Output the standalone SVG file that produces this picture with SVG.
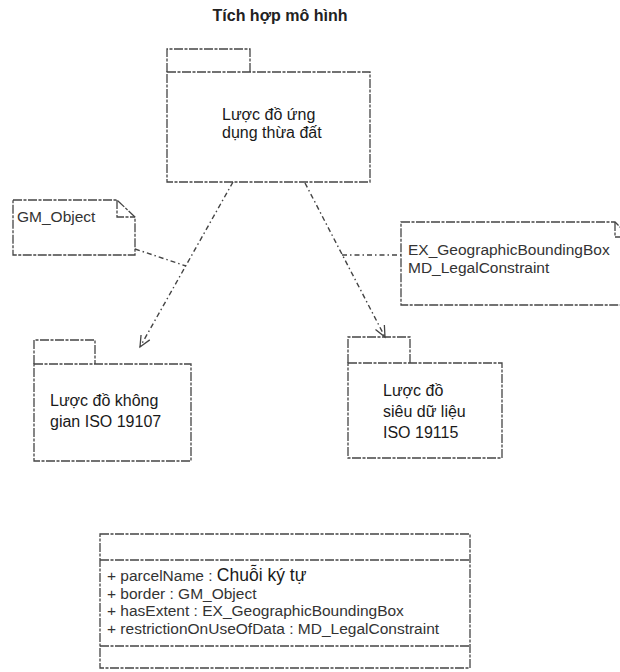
<svg xmlns="http://www.w3.org/2000/svg" width="620" height="672" viewBox="0 0 620 672">
<defs>
<style>
.t{font-family:"Liberation Sans",Arial,sans-serif;fill:#1a1a1a}
.title{font-size:16px;font-weight:bold;fill:#222}
.nt{font-size:16px}
.note{font-size:15.5px;fill:#333}
.attr{font-size:15.5px;fill:#333}
.box{fill:none;stroke:#444;stroke-width:1.3;stroke-dasharray:9 1.5 3 1.5}
.conn{fill:none;stroke:#444;stroke-width:1.4;stroke-dasharray:5 3 1.5 3}
</style>
<marker id="open" markerWidth="14" markerHeight="14" refX="12" refY="7" orient="auto" markerUnits="userSpaceOnUse">
<path d="M1,2 L12,7 L1,12" fill="none" stroke="#444" stroke-width="1.3"/>
</marker>
</defs>
<rect width="620" height="672" fill="#fff"/>
<text class="t title" x="280" y="21" text-anchor="middle">Tích hợp mô hình</text>

<g id="connectors">
<line class="conn" x1="233" y1="182" x2="140" y2="347" marker-end="url(#open)"/>
<line class="conn" x1="305" y1="183" x2="385" y2="337" marker-end="url(#open)"/>
<line class="conn" x1="135" y1="249" x2="186" y2="266"/>
<line class="conn" x1="342" y1="255" x2="401" y2="255"/>
</g>

<g id="pkg-ung-dung">
<path class="box" d="M167,72 V49 H250 V72"/>
<rect class="box" x="167" y="72" width="203" height="110"/>
<text class="t nt" x="222" y="120">Lược đồ ứng</text>
<text class="t nt" x="222" y="138">dụng thừa đất</text>
</g>

<g id="pkg-khong-gian">
<path class="box" d="M34,364 V340 H95 V364"/>
<rect class="box" x="34" y="364" width="157" height="97"/>
<text class="t nt" x="50" y="406">Lược đồ không</text>
<text class="t nt" x="50" y="427">gian ISO 19107</text>
</g>

<g id="pkg-sieu-du-lieu">
<path class="box" d="M348,363 V337 H410 V363"/>
<rect class="box" x="348" y="363" width="154" height="95"/>
<text class="t nt" x="383" y="396">Lược đồ</text>
<text class="t nt" x="383" y="417">siêu dữ liệu</text>
<text class="t nt" x="383" y="438">ISO 19115</text>
</g>

<g id="note-gm">
<path class="box" d="M13,200 H117 L135,217 V255 H13 Z"/>
<path class="box" d="M117,200 V217 H135"/>
<text class="t note" x="17" y="222">GM_Object</text>
</g>

<g id="note-ex">
<path class="box" d="M401,222 H615 L630,237 V305 H401 Z"/>
<path class="box" d="M615,222 V237 H630"/>
<text class="t note" x="408" y="255">EX_GeographicBoundingBox</text>
<text class="t note" x="408" y="273">MD_LegalConstraint</text>
</g>

<g id="class-thua-dat">
<rect class="box" x="100" y="534" width="370" height="134"/>
<line class="box" x1="100" y1="560" x2="470" y2="560"/>
<line class="box" x1="100" y1="646" x2="470" y2="646"/>
<text class="t attr" x="107" y="581">+ parcelName : <tspan font-size="17.5" fill="#1a1a1a">Chuỗi ký tự</tspan></text>
<text class="t attr" x="107" y="599">+ border : GM_Object</text>
<text class="t attr" x="107" y="616">+ hasExtent : EX_GeographicBoundingBox</text>
<text class="t attr" x="107" y="634">+ restrictionOnUseOfData : MD_LegalConstraint</text>
</g>
</svg>
